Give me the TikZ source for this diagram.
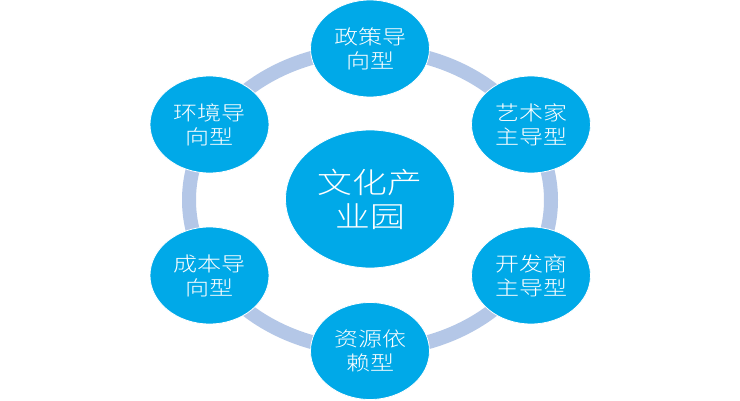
\documentclass[tikz,border=0pt]{standalone}
\usepackage{fontspec}
\newfontfamily\cjk[FakeStretch=1.2,UprightFont={* Light}]{Noto Sans CJK SC}
\usetikzlibrary{shapes.geometric}
\definecolor{ringcol}{HTML}{B4C7E7}
\definecolor{circcol}{HTML}{00A9E8}
\begin{document}
\begin{tikzpicture}[x=1pt,y=1pt,
  small/.style={ellipse,fill=circcol,draw=white,line width=0.8pt,minimum width=119pt,minimum height=97pt,inner sep=0pt,text=white,align=center,font=\cjk\fontsize{20}{24}\selectfont},
  big/.style={ellipse,fill=circcol,draw=white,line width=0.8pt,minimum width=169pt,minimum height=138pt,inner sep=0pt,text=white,align=center,font=\cjk\fontsize{29}{34}\selectfont}]
\useasboundingbox (0,0) rectangle (740,400);
\fill[white] (0,0) rectangle (740,400);
\draw[ringcol,line width=14pt] (370,200) ellipse [x radius=181, y radius=150];
\node[big] (c) at (370,201) {文化产\\业园};
\node[small] (n1) at (370,351.5) {政策导\\向型};
\node[small] (n2) at (531,275.5) {艺术家\\主导型};
\node[small] (n3) at (531,124.5) {开发商\\主导型};
\node[small] (n4) at (370,49) {资源依\\赖型};
\node[small] (n5) at (209.5,124.5) {成本导\\向型};
\node[small] (n6) at (209.5,275.5) {环境导\\向型};
\end{tikzpicture}
\end{document}
